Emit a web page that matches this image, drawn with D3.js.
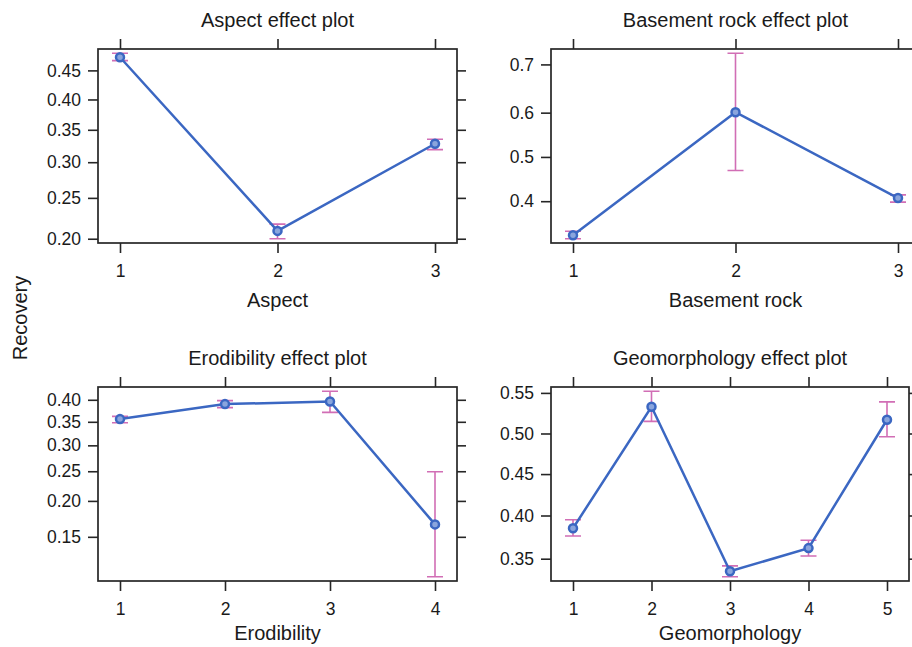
<!DOCTYPE html>
<html>
<head>
<meta charset="utf-8">
<script src="https://cdn.jsdelivr.net/npm/d3@7"></script>
<style>
  body { margin: 0; background: #fff; }
  text { font-family: "Liberation Sans", Arial, Helvetica, sans-serif; fill: #1a1a1a; }
</style>
</head>
<body>
<div id="chart"></div>
<script>
// Effect estimates with 95% bands (Recovery, logit scale)
const aspectLevels = ["1", "2", "3"];
const aspectFit    = [0.473, 0.209, 0.328];
const aspectLower  = [0.467, 0.200, 0.319];
const aspectUpper  = [0.480, 0.217, 0.335];
const aspectTicks  = [0.20, 0.25, 0.30, 0.35, 0.40, 0.45];

const rockLevels = ["1", "2", "3"];
const rockFit    = [0.328, 0.601, 0.407];
const rockLower  = [0.321, 0.469, 0.398];
const rockUpper  = [0.336, 0.721, 0.414];
const rockTicks  = [0.4, 0.5, 0.6, 0.7];

const erodLevels = ["1", "2", "3", "4"];
const erodFit    = [0.356, 0.390, 0.396, 0.166];
const erodLower  = [0.348, 0.382, 0.371, 0.107];
const erodUpper  = [0.362, 0.398, 0.420, 0.249];
const erodTicks  = [0.15, 0.20, 0.25, 0.30, 0.35, 0.40];

const geoLevels = ["1", "2", "3", "4", "5"];
const geoFit    = [0.385, 0.533, 0.336, 0.362, 0.517];
const geoLower  = [0.376, 0.515, 0.330, 0.353, 0.496];
const geoUpper  = [0.395, 0.552, 0.342, 0.371, 0.539];
const geoTicks  = [0.35, 0.40, 0.45, 0.50, 0.55];

const width = 912, height = 647;
const lineColor = "#3b67c2", barColor = "#d16eb5", boxColor = "#262626";

const logit = p => Math.log(p / (1 - p));
const expit = z => 1 / (1 + Math.exp(-z));

const svg = d3.select("#chart")
    .append("svg")
    .attr("width", width)
    .attr("height", height);

// panels: name, data, box position
const panels = [
    { title: "Aspect effect plot", xlab: "Aspect", levels: aspectLevels, fit: aspectFit,
      lower: aspectLower, upper: aspectUpper, ticks: aspectTicks, fmt: ".2f",
      box: { x0: 98, x1: 457, y0: 49, y1: 243 } },
    { title: "Basement rock effect plot", xlab: "Basement rock", levels: rockLevels, fit: rockFit,
      lower: rockLower, upper: rockUpper, ticks: rockTicks, fmt: ".1f",
      box: { x0: 551, x1: 920, y0: 49, y1: 243 } },
    { title: "Erodibility effect plot", xlab: "Erodibility", levels: erodLevels, fit: erodFit,
      lower: erodLower, upper: erodUpper, ticks: erodTicks, fmt: ".2f",
      box: { x0: 98, x1: 457, y0: 387, y1: 581 } },
    { title: "Geomorphology effect plot", xlab: "Geomorphology", levels: geoLevels, fit: geoFit,
      lower: geoLower, upper: geoUpper, ticks: geoTicks, fmt: ".2f",
      box: { x0: 551, x1: 909, y0: 387, y1: 581 } }
];

panels.forEach(p => {
    const b = p.box;
    const gap = 22; // space between box edge and first/last level

    const x = d3.scalePoint()
        .domain(p.levels)
        .range([b.x0 + gap, b.x1 - gap]);

    const lo = logit(d3.min(p.lower)), hi = logit(d3.max(p.upper));
    const ext = (hi - lo) * 0.023;
    const y = d3.scaleLinear()
        .domain([lo - ext, hi + ext])
        .range([b.y1, b.y0]);

    const rows = p.levels.map((l, i) => ({ level: l, fit: p.fit[i], lower: p.lower[i], upper: p.upper[i] }));

    const g = svg.append("g");

    // box
    g.append("rect")
        .attr("x", b.x0).attr("y", b.y0)
        .attr("width", b.x1 - b.x0).attr("height", b.y1 - b.y0)
        .attr("fill", "#fff")
        .attr("stroke", boxColor)
        .attr("stroke-width", 1.7);

    const styleAxis = sel => {
        sel.select(".domain").remove();
        sel.selectAll("line").attr("stroke", boxColor).attr("stroke-width", 1.6);
        sel.selectAll("text").attr("font-size", 17.5).attr("fill", "#1a1a1a")
            .attr("font-family", '"Liberation Sans", Arial, sans-serif');
    };

    // axes
    g.append("g")
        .attr("transform", `translate(0,${b.y1})`)
        .call(d3.axisBottom(x).tickSize(10).tickPadding(12))
        .call(styleAxis);
    g.append("g")
        .attr("transform", `translate(0,${b.y0})`)
        .call(d3.axisTop(x).tickSize(10).tickFormat(""))
        .call(styleAxis);
    g.append("g")
        .attr("transform", `translate(${b.x0},0)`)
        .call(d3.axisLeft(y).tickValues(p.ticks.map(logit))
            .tickFormat(d => d3.format(p.fmt)(expit(d))).tickSize(10).tickPadding(7))
        .call(styleAxis);
    g.append("g")
        .attr("transform", `translate(${b.x1},0)`)
        .call(d3.axisRight(y).tickValues(p.ticks.map(logit)).tickFormat("").tickSize(9))
        .call(styleAxis);

    // error bars
    const bars = g.append("g")
        .attr("stroke", barColor)
        .attr("stroke-width", 1.6)
        .attr("fill", "none");
    bars.selectAll(".bar")
        .data(rows)
        .enter()
        .append("path")
        .attr("d", d => {
            const cx = x(d.level), yt = y(logit(d.upper)), yb = y(logit(d.lower));
            return `M${cx - 8},${yt}H${cx + 8}M${cx},${yt}V${yb}M${cx - 8},${yb}H${cx + 8}`;
        });

    // effect line
    g.append("path")
        .datum(rows)
        .attr("fill", "none")
        .attr("stroke", lineColor)
        .attr("stroke-width", 2.5)
        .attr("d", d3.line().x(d => x(d.level)).y(d => y(logit(d.fit))));

    // points
    g.selectAll(".pt")
        .data(rows)
        .enter()
        .append("circle")
        .attr("cx", d => x(d.level))
        .attr("cy", d => y(logit(d.fit)))
        .attr("r", 4)
        .attr("fill", "#8aa5dd")
        .attr("stroke", lineColor)
        .attr("stroke-width", 2.5);

    // titles
    const cx = (b.x0 + b.x1) / 2;
    g.append("text")
        .attr("x", cx).attr("y", b.y0 - 22)
        .attr("text-anchor", "middle")
        .attr("font-size", 20)
        .text(p.title);
    g.append("text")
        .attr("x", cx).attr("y", Math.min(b.y1 + 64, height - 7))
        .attr("text-anchor", "middle")
        .attr("font-size", 20)
        .text(p.xlab);
});

// shared y label
svg.append("text")
    .attr("transform", "translate(20,318) rotate(-90)")
    .attr("text-anchor", "middle")
    .attr("dominant-baseline", "central")
    .attr("font-size", 20)
    .text("Recovery");
</script>
</body>
</html>
